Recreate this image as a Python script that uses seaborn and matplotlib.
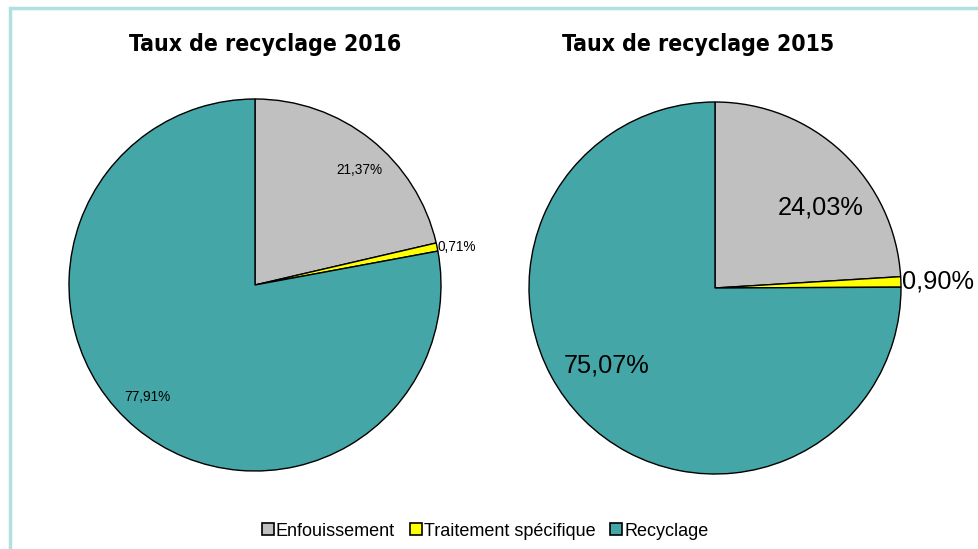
import matplotlib
matplotlib.use("Agg")
import matplotlib.pyplot as plt
from matplotlib.patches import Rectangle
from matplotlib.lines import Line2D
import numpy as np
import seaborn as sns

sns.set_theme(style="white")
plt.rcParams['font.family'] = ['Liberation Sans', 'DejaVu Sans']
plt.rcParams['text.color'] = 'black'

categories = ["Enfouissement", "Traitement spécifique", "Recyclage"]
values_2016 = [21.37, 0.71, 77.91]
values_2015 = [24.03, 0.90, 75.07]
titles = ["Taux de recyclage 2016", "Taux de recyclage 2015"]
colors = ["#C0C0C0", "#FFFF00", "#45A6A8"]

W, H = 979, 549
fig = plt.figure(figsize=(W / 100, H / 100), dpi=100)
fig.patch.set_facecolor("white")

# light teal frame (open on right and bottom)
fig.add_artist(Rectangle((10 / W, -0.1), 1.2, 1.1 - 8 / H, transform=fig.transFigure,
                         fill=False, edgecolor="#B2DFE1", linewidth=2.5))

def fmt(v):
    return f"{v:.2f}".replace(".", ",") + "%"

def draw_pie(cx, cy, r, vals, title, small_fs, inner_dist, ang_off, title_x):
    ax = fig.add_axes([(cx - r) / W, 1 - (cy + r) / H, 2 * r / W, 2 * r / H])
    wedges, _ = ax.pie(vals, colors=colors, startangle=90, counterclock=False,
                       wedgeprops=dict(edgecolor="black", linewidth=1.0))
    ax.set_xlim(-1, 1)
    ax.set_ylim(-1, 1)
    ax.axis("off")
    for w, v in zip(wedges, vals):
        mid = (w.theta1 + w.theta2) / 2
        if v < 5:
            ang = np.deg2rad(mid)
            ax.text(1.005 * np.cos(ang), 1.0 * np.sin(ang), fmt(v), ha="left", va="center",
                    fontsize=small_fs, color="black")
        else:
            ang = np.deg2rad(mid + ang_off)
            ax.text(inner_dist * np.cos(ang), inner_dist * np.sin(ang), fmt(v), ha="center",
                    va="center", fontsize=small_fs, color="black")
    fig.text(title_x / W, 1 - 45 / H, title, ha="center", va="center", fontsize=16.5,
             fontweight="bold", fontstretch="condensed", color="black",
             family=["DejaVu Sans"])

draw_pie(255, 285, 186, values_2016, titles[0], 9.8, 0.835, -4, 265)
draw_pie(715, 288, 186, values_2015, titles[1], 18.3, 0.715, -9.5, 698)

handles = [Line2D([0], [0], marker="s", linestyle="none", markersize=8,
                  markerfacecolor=c, markeredgecolor="black", markeredgewidth=1.2)
           for c in colors]
fig.legend(handles, categories, loc="center", bbox_to_anchor=(484 / W, 1 - 531 / H),
           ncol=3, frameon=False, fontsize=13, handletextpad=0.0, columnspacing=0.7,
           handlelength=0.9)

fig.savefig("out.png", dpi=100, facecolor="white")
